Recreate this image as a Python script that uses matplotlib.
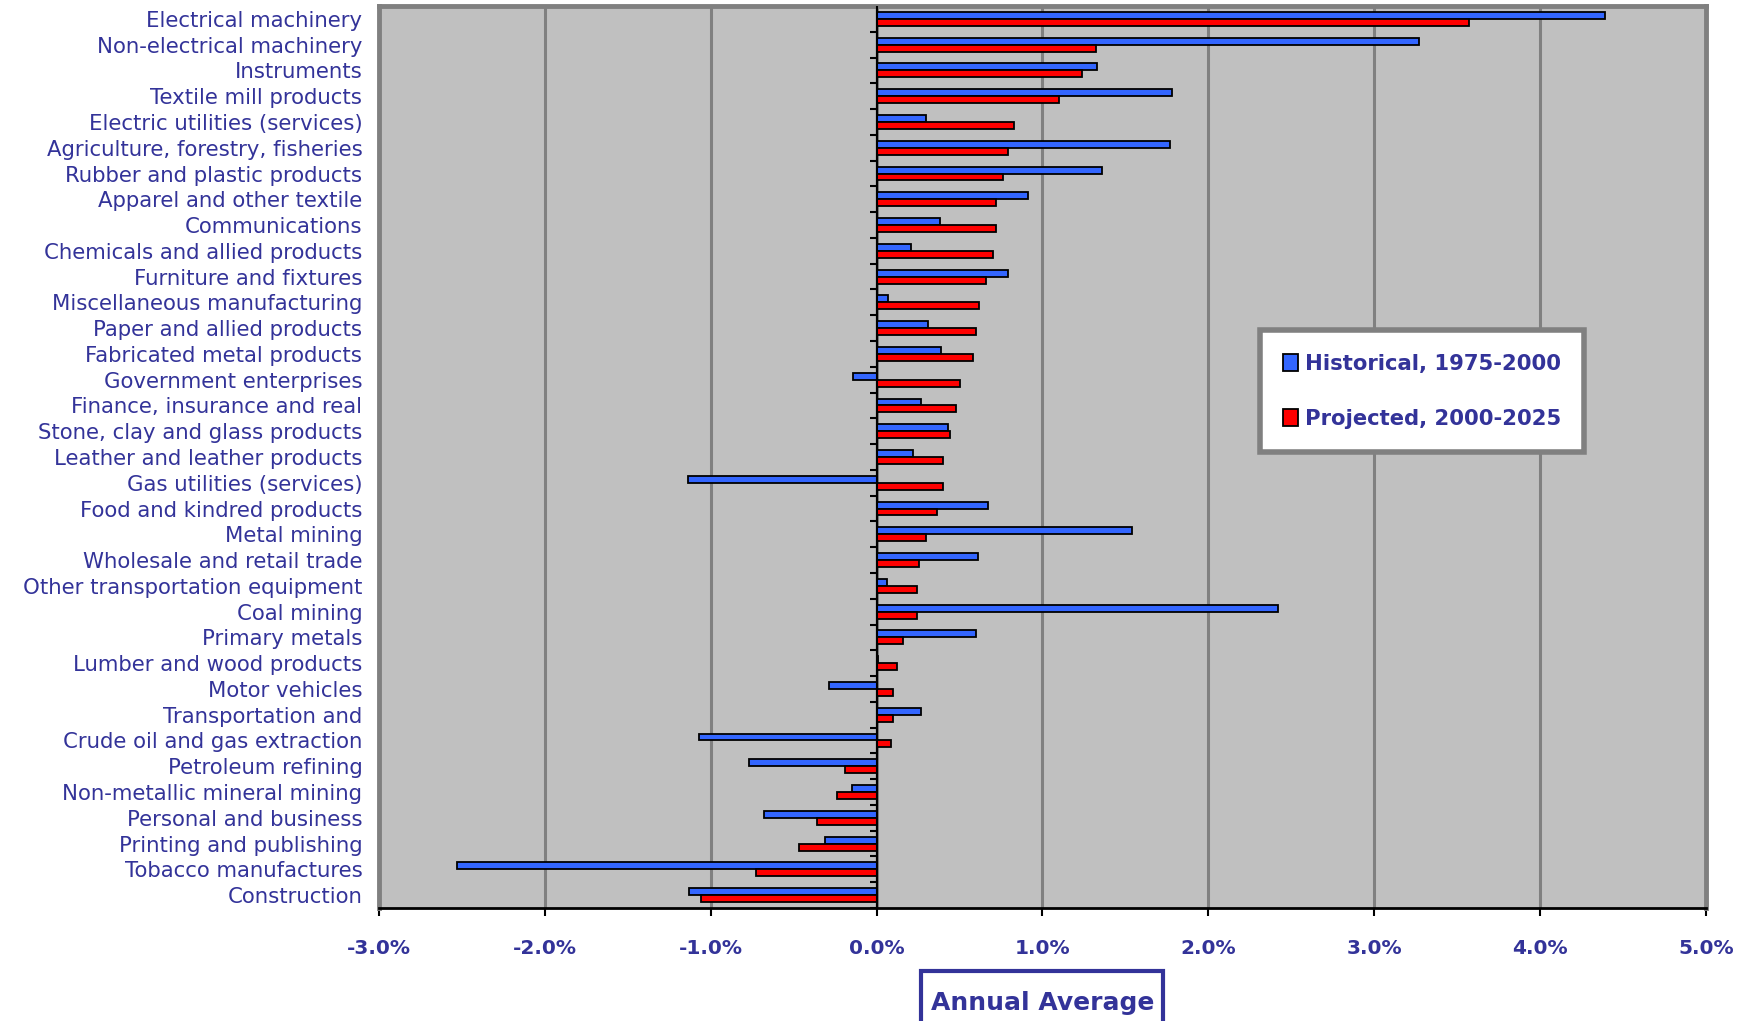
import numpy as np
import matplotlib
matplotlib.use('Agg')
import matplotlib.pyplot as plt
from matplotlib.patches import Rectangle

plt.rcParams['font.family'] = ['DejaVu Sans']

industries = [
    'Electrical machinery', 'Non-electrical machinery', 'Instruments',
    'Textile mill products', 'Electric utilities (services)',
    'Agriculture, forestry, fisheries', 'Rubber and plastic products',
    'Apparel and other textile', 'Communications',
    'Chemicals and allied products', 'Furniture and fixtures',
    'Miscellaneous manufacturing', 'Paper and allied products',
    'Fabricated metal products', 'Government enterprises',
    'Finance, insurance and real', 'Stone, clay and glass products',
    'Leather and leather products', 'Gas utilities (services)',
    'Food and kindred products', 'Metal mining', 'Wholesale and retail trade',
    'Other transportation equipment', 'Coal mining', 'Primary metals',
    'Lumber and wood products', 'Motor vehicles', 'Transportation and',
    'Crude oil and gas extraction', 'Petroleum refining',
    'Non-metallic mineral mining', 'Personal and business',
    'Printing and publishing', 'Tobacco manufactures', 'Construction',
]

# annual average growth, percent
historical = [
    4.39, 3.27, 1.33, 1.78, 0.30, 1.77, 1.36, 0.91, 0.38, 0.21,
    0.79, 0.07, 0.31, 0.39, -0.145, 0.27, 0.43, 0.22, -1.14, 0.67,
    1.54, 0.61, 0.06, 2.42, 0.60, 0.01, -0.285, 0.27, -1.07, -0.77,
    -0.15, -0.68, -0.31, -2.53, -1.13,
]
projected = [
    3.57, 1.32, 1.24, 1.10, 0.83, 0.79, 0.76, 0.72, 0.72, 0.70,
    0.66, 0.62, 0.60, 0.58, 0.50, 0.48, 0.44, 0.40, 0.40, 0.365,
    0.30, 0.255, 0.245, 0.245, 0.16, 0.125, 0.10, 0.10, 0.086, -0.19,
    -0.24, -0.36, -0.47, -0.73, -1.06,
]

series_labels = ['Historical, 1975-2000', 'Projected, 2000-2025']
x_ticks = [-3, -2, -1, 0, 1, 2, 3, 4, 5]

navy = '#333399'
grey = '#808080'

fig = plt.figure(figsize=(17.44, 10.21), dpi=100)
ax = fig.add_axes([0.2173, 0.1107, 0.7609, 0.8834])
ax.set_facecolor('#C0C0C0')

y = np.arange(len(industries))
h = 0.27
ax.barh(y - h / 2, historical, height=h, color='#3366FF', edgecolor='black',
        linewidth=1.3, label=series_labels[0], zorder=3)
ax.barh(y + h / 2, projected, height=h, color='#FF0000', edgecolor='black',
        linewidth=1.3, label=series_labels[1], zorder=3)

ax.set_xlim(-3, 5)
ax.set_ylim(len(industries) - 0.5, -0.5)

ax.set_xticks(x_ticks)
ax.set_xticklabels([f'{v:.1f}%' for v in x_ticks], fontsize=14.5,
                   fontweight='bold', color=navy)
ax.tick_params(axis='x', direction='out', length=6, width=1.5, pad=16)

ax.set_yticks(y)
ax.set_yticklabels(industries, fontsize=15.3, color=navy)
ax.tick_params(axis='y', length=0, pad=12)

ax.grid(axis='x', color=grey, linewidth=2.2, zorder=1)

for side in ['top', 'right', 'left']:
    ax.spines[side].set_color(grey)
    ax.spines[side].set_linewidth(3.5)
ax.spines['bottom'].set_color('black')
ax.spines['bottom'].set_linewidth(2)

# vertical category axis crossing at zero
zero_axis = ax.secondary_yaxis(3 / 8)
zero_axis.set_yticks(np.arange(len(industries) + 1) - 0.5)
zero_axis.set_yticklabels([])
zero_axis.tick_params(length=5, width=1.5, direction='out')
zero_axis.spines['left'].set_linewidth(1.5)
ax.axvline(0, color='black', linewidth=1.5, zorder=4)

# axis title in an open-bottomed box
fig.add_artist(Rectangle((0.528, -0.02), 0.1388, 0.069, transform=fig.transFigure,
                         facecolor='white', edgecolor=navy, linewidth=3,
                         zorder=-1))
ax.set_xlabel('Annual Average', fontsize=18, fontweight='bold', color=navy,
              va='center')
ax.xaxis.set_label_coords(0.5, -0.105)

leg = ax.legend(loc='center', bbox_to_anchor=(0.786, 0.573),
                prop={'weight': 'bold', 'size': 15.2}, fancybox=False,
                framealpha=1, edgecolor=grey, handlelength=0.7,
                handleheight=0.9, handletextpad=0.35, labelspacing=1.65,
                borderpad=0.75, borderaxespad=0)
leg.get_frame().set_linewidth(4)
leg.get_frame().set_boxstyle('square', pad=0.35)
for t in leg.get_texts():
    t.set_color(navy)

fig.savefig('out.png', dpi=100)
